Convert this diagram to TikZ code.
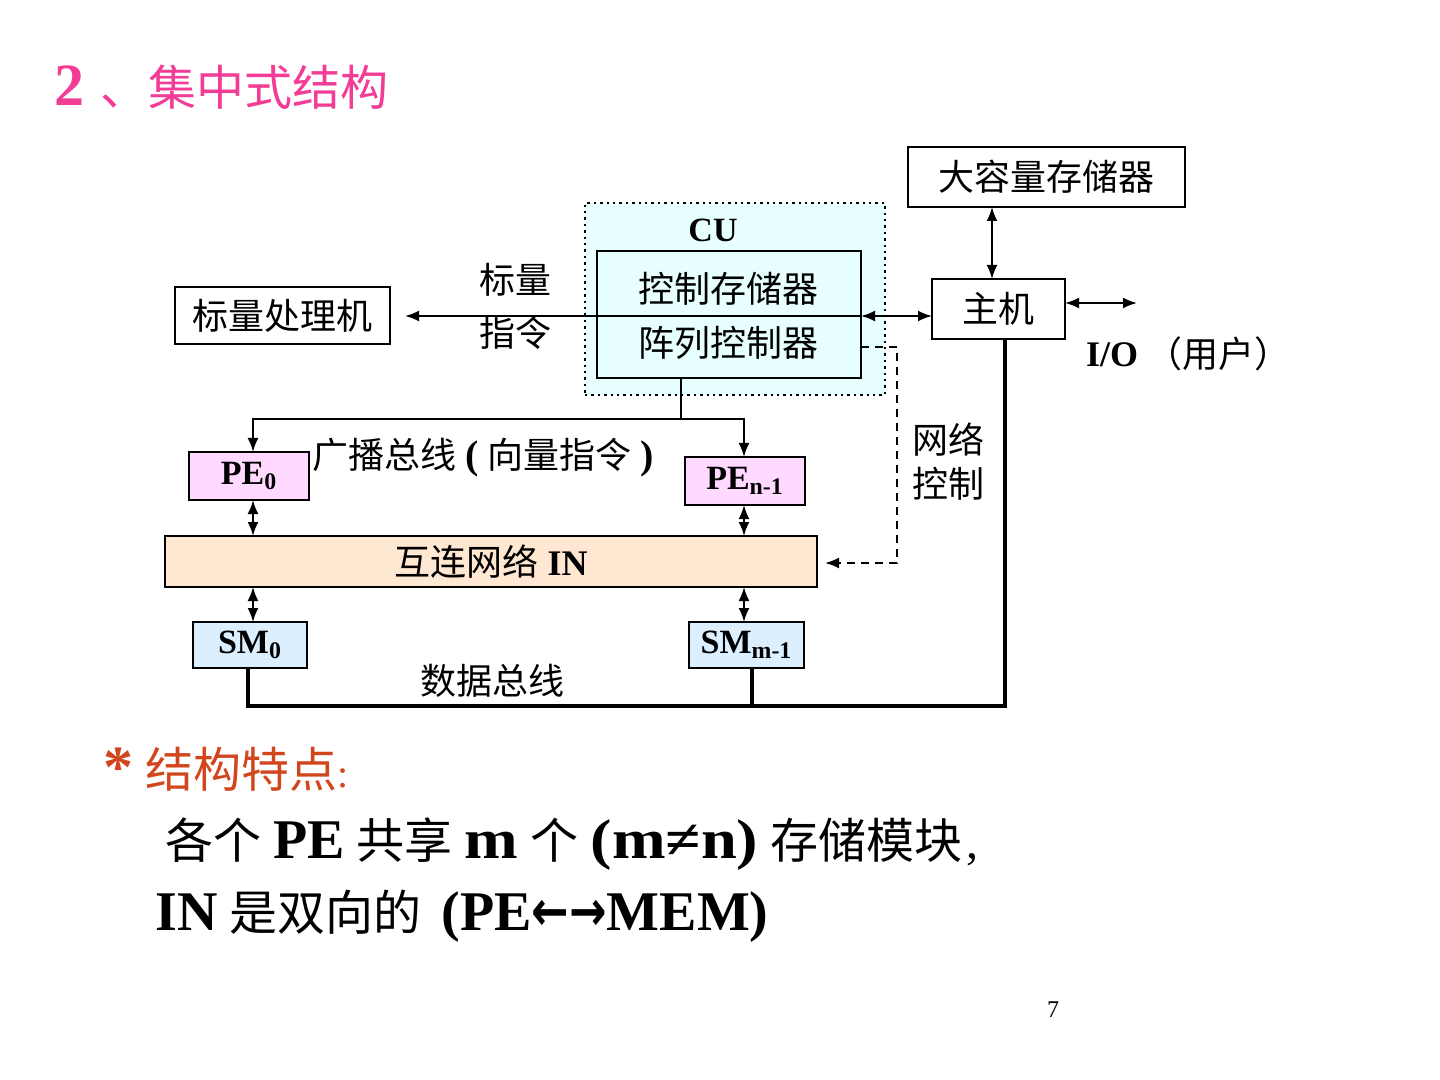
\documentclass[tikz,border=0pt]{standalone}
\usepackage{fontspec}
\setmainfont{Liberation Serif}
\newfontfamily\cjk{Noto Sans CJK SC}
\newfontfamily\dvs{DejaVu Sans}
\usetikzlibrary{arrows.meta}
\definecolor{titlepink}{HTML}{F23C96}
\definecolor{featred}{HTML}{D2461E}
\definecolor{cufill}{HTML}{E8FFFF}
\definecolor{pefill}{HTML}{FFD9FF}
\definecolor{infill}{HTML}{FFE8D2}
\definecolor{smfill}{HTML}{DCEFFF}
\newcommand\zh[1]{{\cjk #1}}
\newcommand\fs[1]{\fontsize{#1}{#1}\selectfont}
\newcommand\lb[1]{{\bfseries\fs{28}#1}}
\newcommand\wlb[1]{\scalebox{1.15}[1]{\lb{#1}}}
\begin{document}
\begin{tikzpicture}[x=0.5pt,y=-0.5pt,
  box/.style={draw,line width=1pt,inner sep=0pt,outer sep=0pt},
  lbl/.style={inner sep=0pt,font=\cjk\fs{18}},
  arr/.style={-{Latex[length=7pt,width=5.5pt]}},
  darr/.style={{Latex[length=7pt,width=5.5pt]}-{Latex[length=7pt,width=5.5pt]}},
  ln/.style={line width=1pt},
  bus/.style={line width=2pt,line join=miter},
]
\useasboundingbox[fill=white] (0,0) rectangle (1440,1080);

% title
\node[anchor=base west, inner sep=0, text=titlepink, font=\bfseries\fs{30}] (t2) at (54,106) {2};
\node[anchor=base west, inner sep=0, text=titlepink, font=\cjk\fs{24}] (t1) at (100,106) {、集中式结构};

% boxes
\node[box, fill=white, minimum width=138.5pt, minimum height=30pt, font=\cjk\fs{18}] (mass) at (1046.5,177) {大容量存储器};
\node[draw, dotted, line width=1.2pt, fill=cufill, minimum width=150pt, minimum height=96pt, inner sep=0pt, outer sep=0pt] (cu) at (735,299) {};
\node[inner sep=0pt, font=\bfseries\fs{17}] (cul) at (713,230) {CU};
\node[box, fill=cufill, minimum width=132pt, minimum height=63.5pt] (inner) at (729,314.5) {};
\node[lbl] (cs) at (728,289) {控制存储器};
\node[lbl] (ac) at (728,343) {阵列控制器};
\node[box, minimum width=107.5pt, minimum height=28.5pt, font=\cjk\fs{18}] (scalar) at (282.5,315.5) {标量处理机};
\node[lbl] (bl1) at (515,280) {标量};
\node[lbl] (bl2) at (515,333) {指令};
\node[box, fill=white, minimum width=66.5pt, minimum height=30pt, font=\cjk\fs{18}] (host) at (998.5,309) {主机};
\node[font=\bfseries\fs{18}, inner sep=0pt] (io) at (1112,355) {I/O};
\node[lbl] (user) at (1218,354) {（用户）};
\node[lbl] (nw1) at (948,440) {网络};
\node[lbl] (nw2) at (948,484) {控制};
\node[box, fill=pefill, minimum width=60pt, minimum height=24pt, font=\bfseries\fs{17}] (pe0) at (249,476) {PE\textsubscript{0}};
\node[box, fill=pefill, minimum width=60pt, minimum height=24pt, font=\bfseries\fs{17}] (pen) at (745,481) {PE\textsubscript{n-1}};
\node[inner sep=0pt, font=\fs{18}] (bcast) at (483,458) {\zh{广播总线} {\bfseries\fs{20}(} \zh{向量指令} {\bfseries\fs{20})}};
\node[box, fill=infill, minimum width=326pt, minimum height=25.5pt, font=\fs{18}] (in) at (491,561.5) {\zh{互连网络} {\bfseries IN}};
\node[box, fill=smfill, minimum width=57pt, minimum height=23pt, font=\bfseries\fs{17}] (sm0) at (250,645) {SM\textsubscript{0}};
\node[box, fill=smfill, minimum width=57.5pt, minimum height=23pt, font=\bfseries\fs{17}] (smm) at (746.5,645) {SM\textsubscript{m-1}};
\node[lbl] (db) at (492,681) {数据总线};

% connectors
\coordinate (hy) at (0,316);
\draw[ln, arr, shorten >=7.5pt] (inner.east |- hy) -- (scalar.east |- hy);
\draw[ln, darr] (inner.east |- hy) -- (host.west |- hy);
\coordinate (mx) at (992,0);
\draw[ln, darr] (mass.south -| mx) -- (host.north -| mx);
\coordinate (ioy) at (1137,303);
\draw[ln, darr] (host.east |- ioy) -- (ioy);
\coordinate (d1) at (897,347);
\coordinate (d2) at (897,563);
\draw[ln, dash pattern=on 4pt off 3pt, arr, shorten >=4pt] (inner.east |- d1) -- (d1) -- (d2) -- (in.east |- d2);
\coordinate (bt) at (681,419);
\coordinate (bl) at (253,419);
\coordinate (br) at (744,419);
\draw[ln] (bt |- inner.south) -- (bt);
\draw[ln, arr] (bt) -- (bl) -- (bl |- pe0.north);
\draw[ln, arr] (bt) -- (br) -- (br |- pen.north);
\draw[ln, darr] (bl |- pe0.south) -- (bl |- in.north);
\draw[ln, darr] (br |- pen.south) -- (br |- in.north);
\draw[ln, darr] (bl |- in.south) -- (bl |- sm0.north);
\draw[ln, darr] (br |- in.south) -- (br |- smm.north);
\coordinate (hx) at (1005,706);
\coordinate (s0) at (248,706);
\coordinate (s1) at (752,706);
\draw[bus] (host.south -| hx) -- (hx) -- (s0) -- (s0 |- sm0.south);
\draw[bus] (s1) -- (s1 |- smm.south);

% bottom text
\node[anchor=base west, inner sep=0pt, text=featred, font=\fs{24}] (feat) at (103,787) {{\bfseries\fs{30}*} \zh{结构特点}{\fs{20}:}};
\node[anchor=base west, inner sep=0pt, font=\fs{24}] (l1) at (165,858) {\zh{各个} \lb{PE} \zh{共享} \wlb{m} \zh{个} \wlb{(m≠n)} \zh{存储模块}\hspace{2pt},};
\node[anchor=base west, inner sep=0pt, font=\fs{24}] (l2) at (155,930) {\lb{IN} \zh{是双向的}\hspace{4pt} \lb{(PE{\dvs\scalebox{0.8}[1]{←→}}MEM)}};
\node[inner sep=0pt, font=\fs{12}] (pg) at (1053,1010) {7};
\end{tikzpicture}
\end{document}
